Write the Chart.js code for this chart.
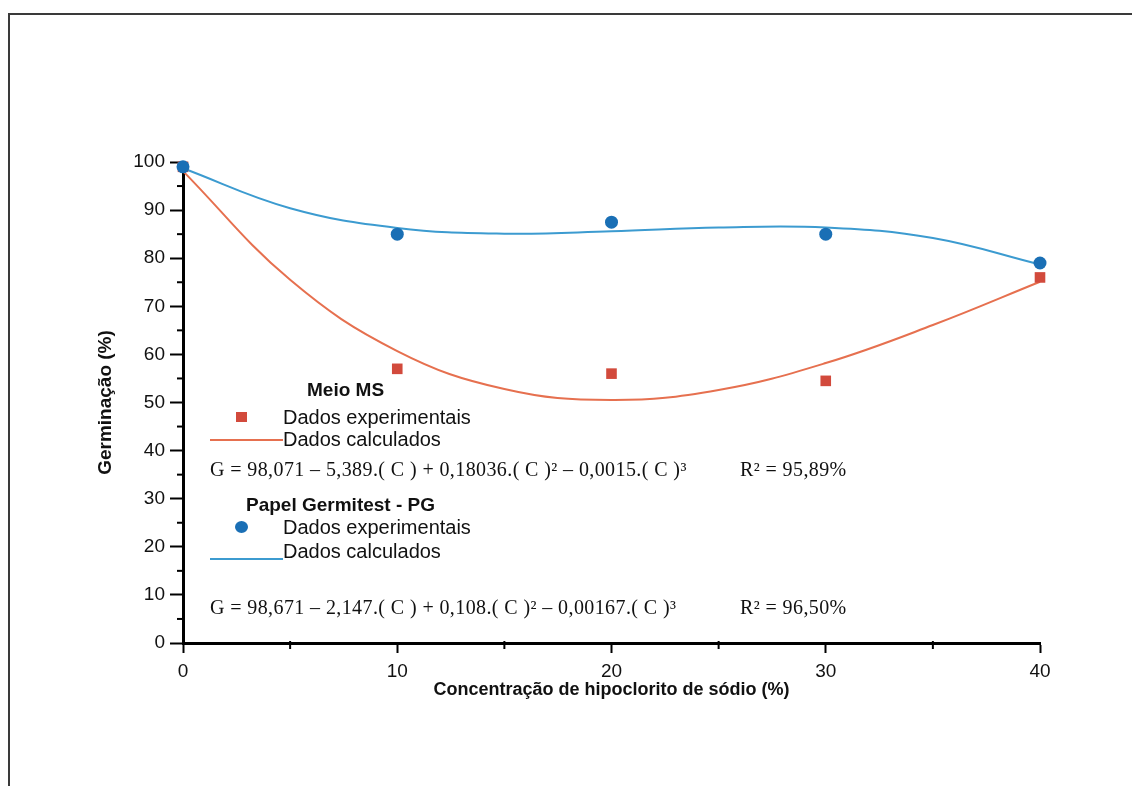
<!DOCTYPE html>
<html>
<head>
<meta charset="utf-8">
<script src="https://cdn.jsdelivr.net/npm/chart.js@4.4.1/dist/chart.umd.min.js"></script>
<style>
  html, body { margin:0; padding:0; background:#ffffff; overflow:hidden; }
  #wrap { position:relative; width:1132px; height:786px; }
  #frame { position:absolute; left:8px; top:13px; width:1200px; height:900px; border:2px solid #3a3a3a; box-sizing:border-box; }
  canvas { position:absolute; left:0; top:0; }
  .t { position:absolute; white-space:nowrap; color:#111; line-height:20px; height:20px; }
  .sans { font-family:"Liberation Sans", Arial, sans-serif; font-size:20px; }
  .bold { font-weight:bold; font-size:19px; }
  .serif { font-family:"Liberation Serif", "Times New Roman", serif; font-size:20px; letter-spacing:0.4px; }
  .mk { position:absolute; }
</style>
</head>
<body>
<div id="wrap">
  <div id="frame"></div>
  <canvas id="c" width="1132" height="786"></canvas>

  <div class="t sans bold" style="left:307px; top:380px;">Meio MS</div>
  <div class="mk" style="left:236px; top:412px; width:11px; height:10px; background:#d24a3c;"></div>
  <div class="t sans" style="left:283px; top:407px;">Dados experimentais</div>
  <div class="mk" style="left:210px; top:439px; width:73px; height:2px; background:#e6704f;"></div>
  <div class="t sans" style="left:283px; top:429px;">Dados calculados</div>
  <div class="t serif" style="left:210px; top:459px;">G = 98,071 – 5,389.( C ) + 0,18036.( C )² – 0,0015.( C )³</div>
  <div class="t serif" style="left:740px; top:459px;">R² = 95,89%</div>

  <div class="t sans bold" style="left:246px; top:495px;">Papel Germitest - PG</div>
  <div class="mk" style="left:235px; top:521px; width:13px; height:12px; border-radius:50%; background:#1a6fb5;"></div>
  <div class="t sans" style="left:283px; top:517px;">Dados experimentais</div>
  <div class="mk" style="left:210px; top:558px; width:73px; height:2px; background:#3c9bd0;"></div>
  <div class="t sans" style="left:283px; top:541px;">Dados calculados</div>
  <div class="t serif" style="left:210px; top:597px;">G = 98,671 – 2,147.( C ) + 0,108.( C )² – 0,00167.( C )³</div>
  <div class="t serif" style="left:740px; top:597px;">R² = 96,50%</div>
</div>
<script>
const concentrations = [0, 10, 20, 30, 40];
const msExperimental = [99, 57, 56, 54.5, 76];
const pgExperimental = [99, 85, 87.5, 85, 79];

// Calculated (fitted) curves
const curveConcentrations = [0, 5, 10, 15, 20, 25, 30, 35, 40];
const msCalculated = [98.1, 75.5, 60.7, 52.8, 50.5, 52.6, 58.2, 66.1, 75.1];
const pgCalculated = [98.7, 90.4, 86.3, 85.1, 85.6, 86.4, 86.4, 84.2, 78.7];

// Tick values
const xTicks = [0, 10, 20, 30, 40];
const yTicks = [0, 10, 20, 30, 40, 50, 60, 70, 80, 90, 100];
const xMinorTicks = [5, 15, 25, 35];
const yMinorTicks = [5, 15, 25, 35, 45, 55, 65, 75, 85, 95];

const toPts = (xs, ys) => xs.map((x, i) => ({ x: x, y: ys[i] }));

const minorTicksPlugin = {
  id: 'minorTicks',
  afterDraw(chart) {
    const ctx = chart.ctx;
    const xs = chart.scales.x, ys = chart.scales.y;
    const axisX = chart.chartArea.left;
    const axisY = chart.chartArea.bottom;
    ctx.save();
    ctx.strokeStyle = '#000';
    ctx.lineWidth = 2;
    yMinorTicks.forEach(v => {
      const py = ys.getPixelForValue(v);
      ctx.beginPath(); ctx.moveTo(axisX - 6, py); ctx.lineTo(axisX + 2, py); ctx.stroke();
    });
    xMinorTicks.forEach(v => {
      const px = xs.getPixelForValue(v);
      ctx.beginPath(); ctx.moveTo(px, axisY - 2); ctx.lineTo(px, axisY + 6); ctx.stroke();
    });
    ctx.restore();
  }
};

const tickFont = { family: '"Liberation Sans", Arial, sans-serif', size: 19 };

new Chart(document.getElementById('c'), {
  type: 'scatter',
  data: {
    datasets: [
      {
        label: 'Meio MS - Dados calculados',
        data: toPts(curveConcentrations, msCalculated),
        showLine: true, tension: 0.4, pointRadius: 0, clip: false,
        borderColor: '#e6704f', borderWidth: 2, order: 4
      },
      {
        label: 'Papel Germitest - PG - Dados calculados',
        data: toPts(curveConcentrations, pgCalculated),
        showLine: true, tension: 0.4, pointRadius: 0, clip: false,
        borderColor: '#3c9bd0', borderWidth: 2, order: 3
      },
      {
        label: 'Meio MS - Dados experimentais',
        data: toPts(concentrations, msExperimental),
        pointStyle: 'rect', pointRadius: 7.5, clip: false,
        backgroundColor: '#d24a3c', borderColor: '#d24a3c', borderWidth: 0, order: 2
      },
      {
        label: 'Papel Germitest - PG - Dados experimentais',
        data: toPts(concentrations, pgExperimental),
        pointStyle: 'circle', pointRadius: 6.5, clip: false,
        backgroundColor: '#1a6fb5', borderColor: '#1a6fb5', borderWidth: 0, order: 1
      }
    ]
  },
  options: {
    responsive: false,
    animation: false,
    layout: { padding: { left: 94, top: 162, right: 92, bottom: 85 } },
    plugins: { legend: { display: false }, tooltip: { enabled: false } },
    scales: {
      x: {
        type: 'linear', min: 0, max: 40,
        afterFit(s) { s.height = 58; },
        afterBuildTicks(s) { s.ticks = xTicks.map(v => ({ value: v })); },
        border: { color: '#000', width: 3 },
        grid: { drawOnChartArea: false, drawTicks: true, tickLength: 10, tickColor: '#000', tickWidth: 2 },
        ticks: { color: '#111', padding: 7, font: tickFont },
        title: { display: true, text: 'Concentração de hipoclorito de sódio (%)', color: '#111', padding: 0,
                 font: { family: '"Liberation Sans", Arial, sans-serif', size: 18, weight: 'bold' } }
      },
      y: {
        type: 'linear', min: 0, max: 100,
        afterFit(s) { s.width = 89; },
        afterBuildTicks(s) { s.ticks = yTicks.map(v => ({ value: v })); },
        border: { color: '#000', width: 3 },
        grid: { drawOnChartArea: false, drawTicks: true, tickLength: 13, tickColor: '#000', tickWidth: 2 },
        ticks: { color: '#111', padding: 5, font: tickFont },
        title: { display: true, text: 'Germinação (%)', color: '#111', padding: 0,
                 font: { family: '"Liberation Sans", Arial, sans-serif', size: 19, weight: 'bold' } }
      }
    }
  },
  plugins: [minorTicksPlugin]
});
</script>
</body>
</html>
